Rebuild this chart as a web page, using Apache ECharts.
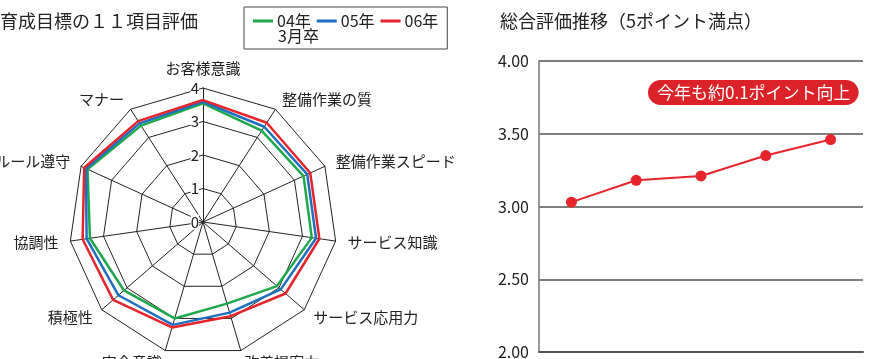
<!DOCTYPE html>
<html lang="ja">
<head>
<meta charset="UTF-8">
<title>育成目標の11項目評価 / 総合評価推移</title>
<script src="https://cdn.jsdelivr.net/npm/echarts@6/dist/echarts.min.js"></script>
<style>
html, body { margin: 0; padding: 0; background: #fff; }
#main { width: 869px; height: 359px; }
</style>
</head>
<body>
<div id="main"></div>
<script>
// レーダーの項目（ECharts は上から反時計回りに並べる）
var radarNames = ['お客様意識', 'マナー', 'ルール遵守', '協調性', '積極性', '安全意識',
                  '改善提案力', 'サービス応用力', 'サービス知識', '整備作業スピード', '整備作業の質'];
var grad04 = [3.54, 3.42, 3.79, 3.41, 3.12, 3.00, 2.54, 2.92, 3.28, 3.30, 3.24];
var grad05 = [3.59, 3.50, 3.84, 3.51, 3.34, 3.20, 2.82, 3.07, 3.41, 3.42, 3.38];
var grad06 = [3.64, 3.58, 3.90, 3.63, 3.55, 3.28, 2.93, 3.26, 3.51, 3.52, 3.52];
var gradNames = ['04年', '05年', '06年'];

// 総合評価推移
var years = ['02年', '03年', '04年', '05年', '06年'];
var totalScore = [3.03, 3.18, 3.21, 3.35, 3.46];

var FONT = '"Noto Sans CJK JP", sans-serif';
var colors = ['#1ea84b', '#1f6fc1', '#e5242b'];

var chart = echarts.init(document.getElementById('main'));

var radarData = [grad04, grad05, grad06];
var radarSeries = radarData.map(function (d, i) {
    return {
        name: gradNames[i],
        type: 'radar',
        symbol: 'none',
        lineStyle: { color: colors[i], width: 2.5 },
        itemStyle: { color: colors[i] },
        data: [{ name: gradNames[i], value: d }]
    };
});

var option = {
    animation: false,
    textStyle: { fontFamily: FONT },
    title: [
        {
            text: '育成目標の１１項目評価',
            left: -5, top: 7,
            textStyle: { fontSize: 18, fontWeight: 'normal', color: '#222', fontFamily: FONT }
        },
        {
            text: '総合評価推移（5ポイント満点）',
            left: 495, top: 7,
            textStyle: { fontSize: 18, fontWeight: 'normal', color: '#222', fontFamily: FONT }
        },
        {
            text: '今年も約0.1ポイント向上',
            left: 648, top: 80,
            padding: [4, 8, 4, 9],
            backgroundColor: '#dc2229',
            borderRadius: 14,
            textStyle: { fontSize: 17, fontWeight: 'normal', color: '#fff', fontFamily: FONT }
        }
    ],
    legend: {
        left: 244, top: 7,
        padding: [6, 9, 20, 9],
        borderColor: '#444', borderWidth: 1,
        icon: 'rect', itemWidth: 20, itemHeight: 3, itemGap: 6,
        data: gradNames,
        textStyle: { fontSize: 16, color: '#222', fontFamily: FONT, padding: [0, 0, 0, -1] }
    },
    graphic: [{
        type: 'text', left: 278, top: 28,
        style: { text: '3月卒', fontSize: 16, fill: '#222', fontFamily: FONT }
    }],
    radar: {
        center: [203, 222],
        radius: 134,
        startAngle: 90,
        splitNumber: 4,
        shape: 'polygon',
        nameGap: 12,
        axisName: { color: '#222', fontSize: 15, fontFamily: FONT },
        axisLine: { lineStyle: { color: '#222', width: 1 } },
        splitLine: { lineStyle: { color: '#222', width: 1 } },
        splitArea: { show: false },
        axisLabel: { show: false },
        indicator: radarNames.map(function (n, i) {
            var o = { name: n, min: 0, max: 4 };
            if (i === 0) {
                o.axisLabel = {
                    show: true, color: '#222', fontSize: 15, fontFamily: FONT,
                    backgroundColor: '#fff', margin: 4
                };
            }
            return o;
        })
    },
    grid: { left: 539, right: 6, top: 61, bottom: 7, containLabel: false, outerBoundsMode: 'none' },
    xAxis: {
        type: 'category',
        data: years,
        axisLine: { lineStyle: { color: '#555', width: 2 } },
        axisTick: { inside: true, alignWithLabel: true, length: 7, lineStyle: { color: '#333', width: 1.5 } },
        axisLabel: { color: '#222', fontSize: 15, margin: 12 }
    },
    yAxis: {
        type: 'value',
        min: 2, max: 4, interval: 0.5,
        axisLine: { show: true, lineStyle: { color: '#777', width: 1.5 } },
        axisTick: { show: false },
        axisLabel: {
            color: '#222', fontSize: 16, margin: 10,
            formatter: function (v) { return v.toFixed(2); }
        },
        splitLine: { lineStyle: { color: '#555', width: 1.5 } }
    },
    series: radarSeries.concat([{
        name: '総合評価',
        type: 'line',
        data: totalScore,
        symbol: 'circle',
        symbolSize: 11,
        lineStyle: { color: '#e5242b', width: 2 },
        itemStyle: { color: '#e5242b' }
    }])
};

chart.setOption(option);
</script>
</body>
</html>
